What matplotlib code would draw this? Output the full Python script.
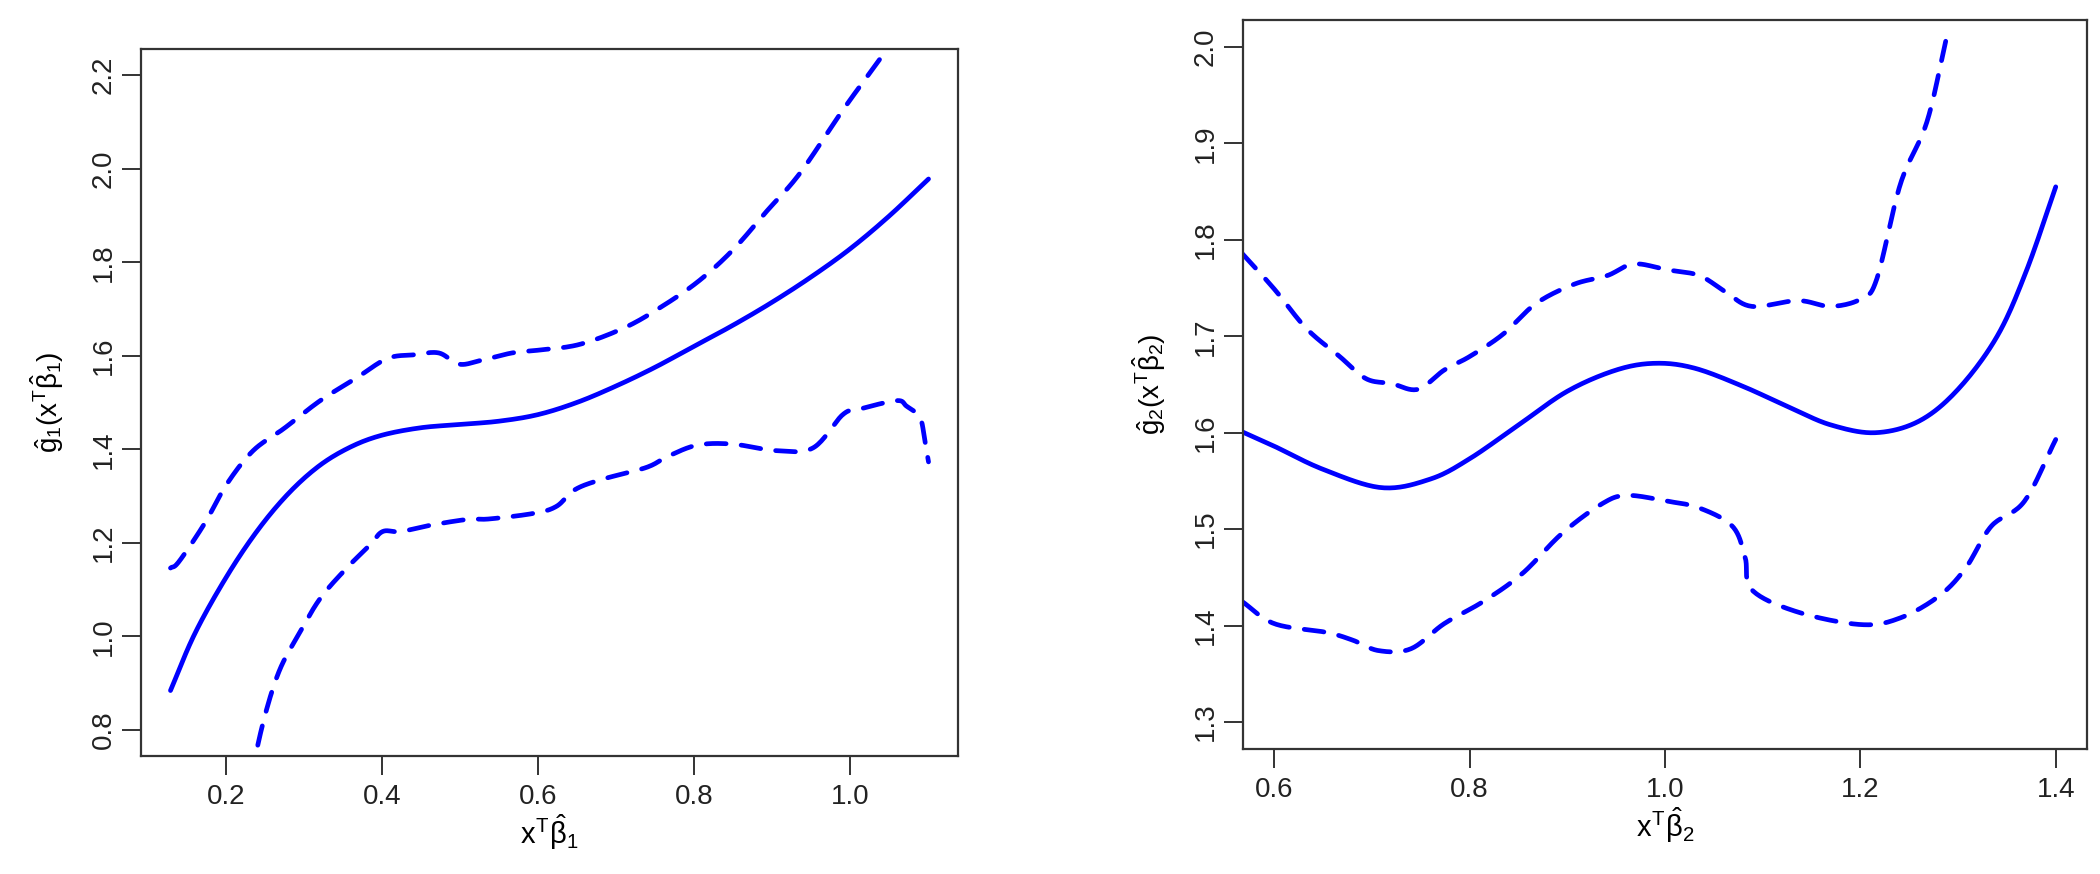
import numpy as np
import matplotlib
matplotlib.use('Agg')
import matplotlib.pyplot as plt

plt.rcParams['font.family'] = ['Liberation Sans', 'DejaVu Sans']
plt.rcParams['mathtext.fontset'] = 'custom'
plt.rcParams['mathtext.rm'] = 'Liberation Sans'
plt.rcParams['mathtext.it'] = 'Liberation Sans'
plt.rcParams['mathtext.bf'] = 'Liberation Sans:bold'

# ---------------------------------------------------------------------------
# Data (left panel: g1, right panel: g2)
# ---------------------------------------------------------------------------
g1_fit_x = [0.129, 0.16, 0.2, 0.24, 0.28, 0.32, 0.36, 0.40, 0.45, 0.50,
            0.55, 0.60, 0.65, 0.70, 0.75, 0.80, 0.85, 0.90, 0.95, 1.00,
            1.05, 1.101]
g1_fit_y = [0.884, 1.005, 1.125, 1.225, 1.305, 1.365, 1.405, 1.430, 1.446, 1.453,
            1.460, 1.474, 1.500, 1.535, 1.575, 1.620, 1.665, 1.714, 1.768, 1.828,
            1.898, 1.978]

g1_up_x = [0.129, 0.14, 0.173, 0.201, 0.235, 0.275, 0.321, 0.367, 0.407, 0.441,
           0.473, 0.499, 0.527, 0.567, 0.601, 0.653, 0.710, 0.755, 0.805, 0.85,
           0.894, 0.936, 0.991, 1.035, 1.045]
g1_up_y = [1.146, 1.16, 1.242, 1.325, 1.397, 1.445, 1.504, 1.552, 1.594, 1.602,
           1.606, 1.582, 1.590, 1.606, 1.612, 1.624, 1.659, 1.701, 1.758, 1.826,
           1.910, 1.990, 2.125, 2.226, 2.25]

g1_lo_x = [0.225, 0.238, 0.253, 0.270, 0.293, 0.321, 0.355, 0.384, 0.401, 0.424,
           0.464, 0.510, 0.538, 0.595, 0.624, 0.647, 0.681, 0.739, 0.767, 0.805,
           0.85, 0.906, 0.953, 0.991, 1.013, 1.060, 1.073, 1.090, 1.096, 1.101]
g1_lo_y = [0.62, 0.744, 0.848, 0.932, 1.003, 1.081, 1.146, 1.194, 1.224, 1.224,
           1.238, 1.250, 1.251, 1.263, 1.278, 1.313, 1.335, 1.361, 1.385, 1.409,
           1.411, 1.397, 1.403, 1.474, 1.486, 1.504, 1.492, 1.468, 1.421, 1.373]

g2_fit_x = [0.567, 0.60, 0.65, 0.71, 0.76, 0.80, 0.85, 0.90, 0.95,
            0.99, 1.03, 1.08, 1.13, 1.17, 1.215, 1.26, 1.30, 1.34, 1.37, 1.40]
g2_fit_y = [1.601, 1.586, 1.562, 1.543, 1.552, 1.573, 1.608, 1.643, 1.665,
            1.672, 1.667, 1.648, 1.625, 1.608, 1.600, 1.612, 1.645, 1.700, 1.768,
            1.855]

g2_up_x = [0.567, 0.6, 0.633, 0.667, 0.694, 0.72, 0.747, 0.774, 0.80, 0.834,
           0.868, 0.907, 0.941, 0.968, 1.002, 1.035, 1.062, 1.089, 1.136, 1.17,
           1.201, 1.217, 1.241, 1.268, 1.288]
g2_up_y = [1.786, 1.749, 1.708, 1.679, 1.656, 1.651, 1.645, 1.665, 1.679, 1.702,
           1.734, 1.754, 1.763, 1.775, 1.769, 1.763, 1.746, 1.731, 1.737, 1.731,
           1.739, 1.760, 1.858, 1.922, 2.009]

g2_lo_x = [0.567, 0.6, 0.653, 0.680, 0.707, 0.740, 0.774, 0.814, 0.854, 0.894,
           0.935, 0.961, 1.002, 1.035, 1.069, 1.082, 1.089, 1.136, 1.201, 1.241,
           1.281, 1.308, 1.334, 1.368, 1.40]
g2_lo_y = [1.425, 1.402, 1.393, 1.385, 1.374, 1.376, 1.402, 1.425, 1.454, 1.495,
           1.526, 1.535, 1.529, 1.522, 1.503, 1.471, 1.437, 1.414, 1.401, 1.408,
           1.431, 1.460, 1.503, 1.529, 1.593]

g1_xticks = [0.2, 0.4, 0.6, 0.8, 1.0]
g1_yticks = [0.8, 1.0, 1.2, 1.4, 1.6, 1.8, 2.0, 2.2]
g2_xticks = [0.6, 0.8, 1.0, 1.2, 1.4]
g2_yticks = [1.3, 1.4, 1.5, 1.6, 1.7, 1.8, 1.9, 2.0]

BLUE = '#0000FF'
EDGE = '#333333'


def catmull_rom(xs, ys, per_seg=20):
    """Smooth curve through the read-off points (Catmull-Rom spline)."""
    p = np.column_stack([xs, ys]).astype(float)
    p = np.vstack([2 * p[0] - p[1], p, 2 * p[-1] - p[-2]])
    t = np.linspace(0, 1, per_seg, endpoint=False)[:, None]
    out = []
    for i in range(1, len(p) - 2):
        p0, p1, p2, p3 = p[i - 1], p[i], p[i + 1], p[i + 2]
        seg = 0.5 * ((2 * p1) + (-p0 + p2) * t
                     + (2 * p0 - 5 * p1 + 4 * p2 - p3) * t ** 2
                     + (-p0 + 3 * p1 - 3 * p2 + p3) * t ** 3)
        out.append(seg)
    out.append(p[-2][None, :])
    out = np.vstack(out)
    return out[:, 0], out[:, 1]


def style_axes(ax, xlim, ylim, xticks, yticks, xlabel, ylabel):
    ax.set_xlim(*xlim)
    ax.set_ylim(*ylim)
    ax.set_xticks(xticks)
    ax.set_yticks(yticks)
    ax.set_xticklabels([f'{v:.1f}' for v in xticks])
    ax.set_yticklabels([f'{v:.1f}' for v in yticks], rotation=90, va='center')
    for sp in ax.spines.values():
        sp.set_color(EDGE)
        sp.set_linewidth(1.6)
    ax.tick_params(length=13.5, width=1.4, color=EDGE, labelsize=20,
                   labelcolor='#222222')
    ax.tick_params(axis='x', pad=7)
    ax.tick_params(axis='y', pad=4)
    ax.set_xlabel(xlabel, fontsize=21, labelpad=1)
    ax.set_ylabel(ylabel, fontsize=20, labelpad=18)


fig = plt.figure(figsize=(21, 8.74), dpi=100)
ax1 = fig.add_axes([141 / 2100, 1 - 756 / 874, 817 / 2100, 707 / 874])
ax2 = fig.add_axes([1243 / 2100, 1 - 749 / 874, 844 / 2100, 729 / 874])

lw = 3.4
for ax, (fx, fy), (ux, uy), (lx, ly) in [
        (ax1, (g1_fit_x, g1_fit_y), (g1_up_x, g1_up_y), (g1_lo_x, g1_lo_y)),
        (ax2, (g2_fit_x, g2_fit_y), (g2_up_x, g2_up_y), (g2_lo_x, g2_lo_y))]:
    ax.plot(*catmull_rom(fx, fy), color=BLUE, lw=lw, solid_capstyle='round')
    for xs, ys in [(ux, uy), (lx, ly)]:
        ax.plot(*catmull_rom(xs, ys), color=BLUE, lw=lw, dashes=(4.2, 3.2),
                dash_capstyle='round')

style_axes(ax1, (0.0912, 1.1388), (0.744, 2.256), g1_xticks, g1_yticks,
           r'$x^{T}\hat{\beta}_1$', r'$\hat{g}_1(x^{T}\hat{\beta}_1)$')
style_axes(ax2, (0.568, 1.432), (1.272, 2.028), g2_xticks, g2_yticks,
           r'$x^{T}\hat{\beta}_2$', r'$\hat{g}_2(x^{T}\hat{\beta}_2)$')

fig.savefig('out.png', dpi=100)
